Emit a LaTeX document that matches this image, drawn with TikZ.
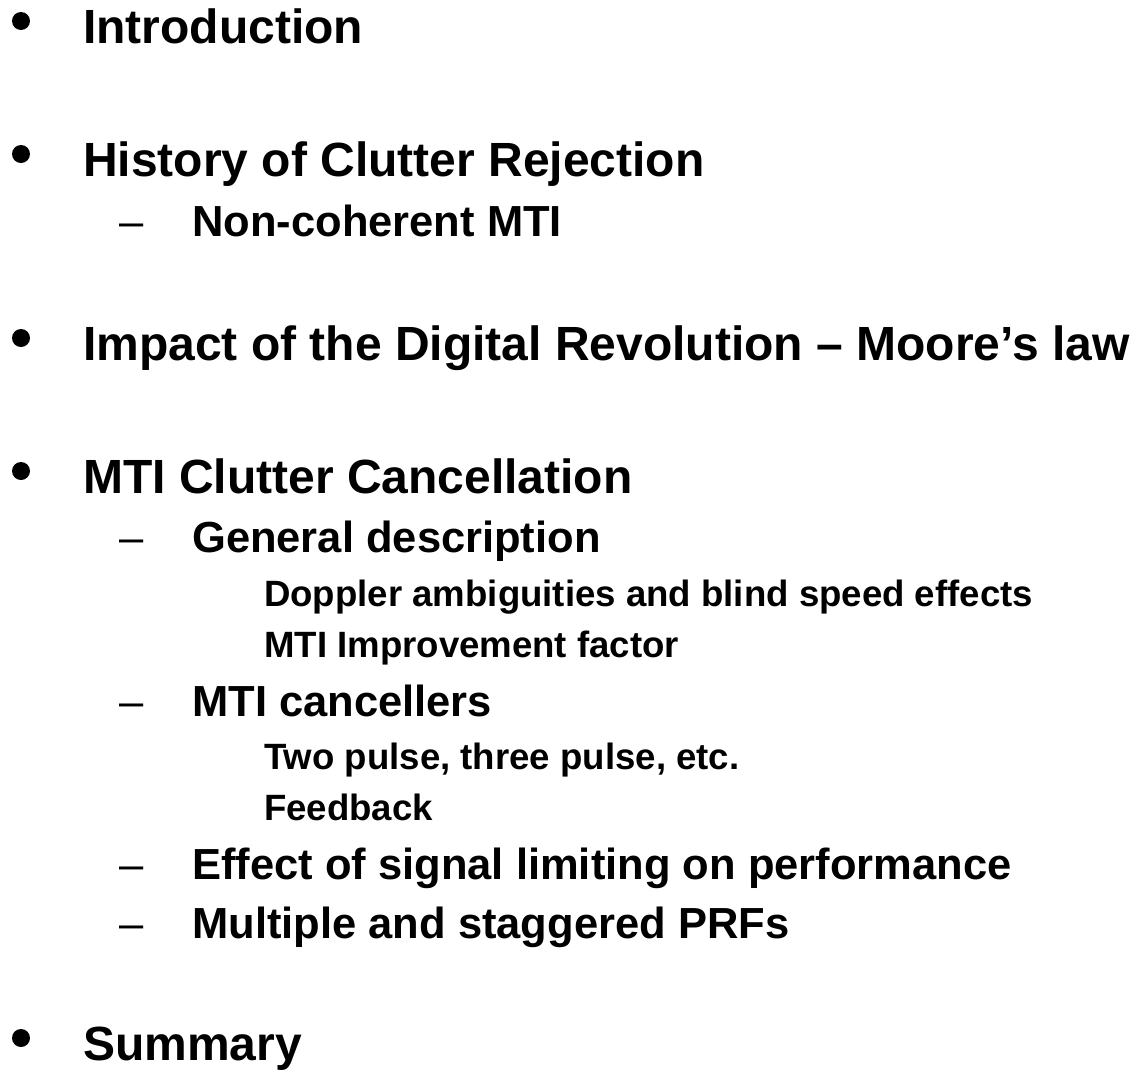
\documentclass[tikz,border=0pt]{standalone}
\usepackage{fontspec}
\setmainfont{Liberation Sans}
\begin{document}
\begin{tikzpicture}[x=1pt,y=-1pt,
  lvlone/.style={anchor=base west,inner sep=0pt,font=\fontsize{48}{50}\selectfont\bfseries},
  lvltwo/.style={anchor=base west,inner sep=0pt,font=\fontsize{43.5}{46}\selectfont\bfseries},
  lvlthree/.style={anchor=base west,inner sep=0pt,font=\fontsize{36.6}{40}\selectfont\bfseries},
  bul/.style={circle,fill=black,inner sep=0pt,minimum size=18pt},
  dsh/.style={anchor=base west,inner sep=0pt,font=\fontsize{43.5}{46}\selectfont}]
\useasboundingbox (0,0) rectangle (1134,1069);
% level 1
\node[bul] (b1) at (21,21) {};
\node[lvlone] (t1) at (83,43) {Introduction};
\node[bul] (b2) at (21,154) {};
\node[lvlone] (t2) at (83,176) {History of Clutter Rejection};
\node[dsh] (d1) at (119,236) {–};
\node[lvltwo] (t21) at (192,236) {Non-coherent MTI};
\node[bul] (b3) at (21,338) {};
\node[lvlone] (t3) at (83,360) {Impact of the Digital Revolution – Moore’s law};
\node[bul] (b4) at (21,471) {};
\node[lvlone] (t4) at (83,493) {MTI Clutter Cancellation};
\node[dsh] (d2) at (119,552) {–};
\node[lvltwo] (t41) at (192,552) {General description};
\node[lvlthree] (t411) at (264,606) {Doppler ambiguities and blind speed effects};
\node[lvlthree] (t412) at (264,657) {MTI Improvement factor};
\node[dsh] (d3) at (119,716) {–};
\node[lvltwo] (t42) at (192,716) {MTI cancellers};
\node[lvlthree] (t421) at (264,769) {Two pulse, three pulse, etc.};
\node[lvlthree] (t422) at (264,820) {Feedback};
\node[dsh] (d4) at (119,879) {–};
\node[lvltwo] (t43) at (192,879) {Effect of signal limiting on performance};
\node[dsh] (d5) at (119,938) {–};
\node[lvltwo] (t44) at (192,938) {Multiple and staggered PRFs};
\node[bul] (b5) at (21,1038) {};
\node[lvlone] (t5) at (83,1060) {Summary};
\end{tikzpicture}
\end{document}
